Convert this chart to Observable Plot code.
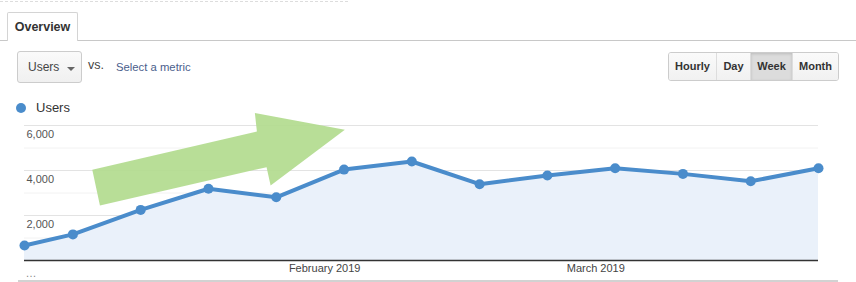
<!DOCTYPE html>
<html>
<head>
<meta charset="utf-8">
<script src="https://cdn.jsdelivr.net/npm/d3@7"></script>
<script src="https://cdn.jsdelivr.net/npm/@observablehq/plot@0.6"></script>
<style>
  html, body { margin: 0; padding: 0; background: #fff; }
  body { width: 856px; height: 282px; position: relative; overflow: hidden; font-family: Arial, "Liberation Sans", sans-serif; }
  .abs { position: absolute; }
  #dash { left: 0; top: 1px; width: 348px; height: 0; border-top: 1px dashed #ddd; }
  #tabline { left: 0; top: 40px; width: 856px; height: 0; border-top: 1px solid #c8c8c8; }
  #tab { left: 7px; top: 12px; width: 71px; height: 29px; border: 1px solid #d4d4d4; border-bottom: none; background: #fff; box-sizing: border-box; border-radius: 2px 2px 0 0;
         font-weight: bold; font-size: 12.5px; color: #333; line-height: 28px; text-align: center; }
  #metric { left: 17px; top: 51px; width: 65px; height: 32px; box-sizing: border-box; border: 1px solid #ccc; border-radius: 3px;
            background: linear-gradient(#fafafa, #f0f0f0); font-size: 12px; color: #444; line-height: 31px; padding-left: 10px; }
  #caret { left: 49px; top: 15px; width: 0; height: 0; border-left: 4px solid transparent; border-right: 4px solid transparent; border-top: 4px solid #666; }
  #vs { left: 88px; top: 58px; font-size: 12.5px; color: #444; }
  #sel { left: 116px; top: 61px; font-size: 11.3px; color: #4a5e8c; }
  #btns { left: 668px; top: 52px; height: 29px; display: flex; border: 1px solid #ccc; border-radius: 3px; overflow: hidden; box-sizing: border-box; }
  #btns div { font-size: 11px; font-weight: bold; color: #333; line-height: 27px; text-align: center; background: linear-gradient(#fafafa, #f1f1f1); border-right: 1px solid #ddd; box-sizing: border-box; }
  #btns div:last-child { border-right: none; }
  #btns div.on { background: #dcdcdc; box-shadow: inset 0 1px 3px rgba(0,0,0,0.15); }
  #legdot { left: 16px; top: 103px; width: 10px; height: 10px; border-radius: 50%; background: #4a8ccb; }
  #leg { left: 36px; top: 100px; font-size: 13px; color: #333; }
  #chart { left: 0; top: 118px; }
  #bottomline { left: 18px; top: 280px; width: 820px; height: 0; border-top: 2px solid #d2d2d2; }
</style>
</head>
<body>
<div id="dash" class="abs"></div>
<div id="tabline" class="abs"></div>
<div id="tab" class="abs">Overview</div>
<div id="metric" class="abs">Users<div id="caret" class="abs"></div></div>
<div id="vs" class="abs">vs.</div>
<div id="sel" class="abs">Select a metric</div>
<div id="btns" class="abs">
  <div style="width:48px">Hourly</div>
  <div style="width:34px">Day</div>
  <div class="on" style="width:42px">Week</div>
  <div style="width:45px">Month</div>
</div>
<div id="legdot" class="abs"></div>
<div id="leg" class="abs">Users</div>
<div id="chart" class="abs"></div>
<div id="bottomline" class="abs"></div>
<script>
// Weekly data points (GA "Week" view)
const weeks = ["2019-01-01","2019-01-06","2019-01-13","2019-01-20","2019-01-27","2019-02-03","2019-02-10",
               "2019-02-17","2019-02-24","2019-03-03","2019-03-10","2019-03-17","2019-03-24"];
const users = [670, 1160, 2250, 3190, 2810, 4040, 4400, 3390, 3780, 4100, 3850, 3520, 4100];

const majorTicks = [2000, 4000, 6000];
const minorTicks = [1000, 3000, 5000];
const monthTicks = ["2019-02-01", "2019-03-01"];

// Annotation arrow outline (in data units: date, users)
const arrowX = ["2019-01-08T00:00","2019-01-25T00:00","2019-01-24T19:00","2019-02-03T02:00",
                "2019-01-26T10:00","2019-01-26T00:00","2019-01-08T19:00"];
const arrowY = [4030, 5730, 6560, 5810, 3330, 4150, 2440];

const parse = s => new Date(s + (s.length === 10 ? "T00:00Z" : "Z"));
const data = weeks.map((d, i) => ({date: parse(d), users: users[i]}));
const arrow = arrowX.map((d, i) => ({date: parse(d), users: arrowY[i]}));
const start = parse(weeks[0]), end = parse(weeks[weeks.length - 1]);

const blue = "#4a8ccb";
const chart = Plot.plot({
  width: 856,
  height: 164,
  marginTop: 7,
  marginBottom: 22,
  marginLeft: 24,
  marginRight: 38,
  style: {fontFamily: "Arial, 'Liberation Sans', sans-serif", overflow: "visible"},
  x: {type: "utc", domain: [start, end], axis: null},
  y: {domain: [0, 6000], axis: null},
  marks: [
    Plot.ruleY(minorTicks, {stroke: "#f2f2f2"}),
    Plot.ruleY(majorTicks, {stroke: "#e3e3e3"}),
    Plot.areaY(data, {x: "date", y: "users", fill: "#eaf1fa"}),
    Plot.ruleY([0], {stroke: "#333", strokeWidth: 1.5}),
    Plot.text(majorTicks, {x: start, y: d => d, text: d => d3.format(",")(d), textAnchor: "start", dx: 2, dy: 9, fontSize: 11, fill: "#555"}),
    Plot.line(data, {x: "date", y: "users", stroke: blue, strokeWidth: 4, strokeLinejoin: "round"}),
    Plot.dot(data, {x: "date", y: "users", r: 5, fill: blue, stroke: "none"}),
    Plot.line(arrow, {x: "date", y: "users", curve: "linear-closed", fill: "#b3dc8f", fillOpacity: 0.93, stroke: "none"}),
    Plot.axisX(monthTicks.map(parse), {tickSize: 0, tickPadding: 4, tickFormat: d3.utcFormat("%B %Y"), fontSize: 11, fill: "#444", label: null}),
    Plot.text(["…"], {x: start, y: 0, dx: 1, dy: 13, textAnchor: "start", fontSize: 11, fill: "#888"})
  ]
});
document.getElementById("chart").appendChild(chart);
</script>
</body>
</html>
